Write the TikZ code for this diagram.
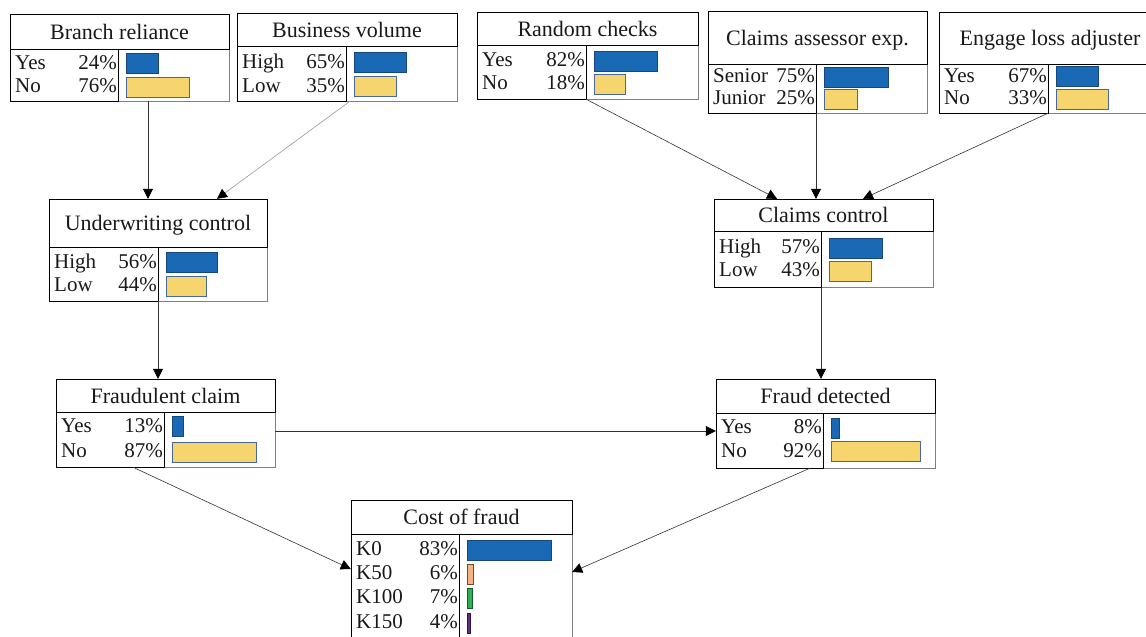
\documentclass[tikz,border=0pt]{standalone}
\usepackage{fontspec}
\setmainfont{Liberation Serif}
\usetikzlibrary{arrows.meta,fit}
\definecolor{barblue}{RGB}{25,105,180}
\definecolor{barblueedge}{RGB}{22,70,130}
\definecolor{baryellow}{RGB}{247,213,110}
\definecolor{baryellowedge}{RGB}{70,105,155}
\definecolor{barorange}{RGB}{245,178,130}
\definecolor{barorangeedge}{RGB}{120,70,40}
\definecolor{bargreen}{RGB}{50,175,80}
\definecolor{bargreenedge}{RGB}{20,90,40}
\definecolor{barpurple}{RGB}{95,45,130}
\definecolor{barpurpleedge}{RGB}{50,20,70}
\newcommand{\bnbox}[8]{%
  \node[fit={(#2,#3)(#4,#5)},inner sep=0pt] (#1) {};
  \draw[colframe] (#7,#6) rectangle (#4,#5);
  \draw[frame] (#2,#6) rectangle (#7,#5);
  \draw[frame] (#2,#3) rectangle (#4,#6);
  \node[titletxt,anchor=base] (#1-t) at ({(#2+#4)/2},{(#3+#6)/2+7.5}) {#8};
}
\newcommand{\brow}[8]{%
  \node[rowtxt,anchor=base west] (#1-l) at ({#2+5},{#4+5.5}) {#5};
  \node[rowtxt,anchor=base east] (#1-p) at ({#3-1},{#4+5.5}) {#6};
  \draw[#8] ({#3+8},{#4-10}) rectangle (#7,{#4+10});
}
\begin{document}
\begin{tikzpicture}[x=1pt,y=-1pt,
  frame/.style={draw=black,line width=1pt},
  colframe/.style={draw=black!50,line width=1pt},
  titletxt/.style={inner sep=0pt,font=\fontsize{22}{26}\selectfont,text=black!90},
  rowtxt/.style={inner sep=0pt,font=\fontsize{21}{25}\selectfont,text=black!90},
  bluebar/.style={fill=barblue,draw=barblueedge,line width=0.8pt},
  yellowbar/.style={fill=baryellow,draw=baryellowedge,line width=0.8pt},
  orangebar/.style={fill=barorange,draw=barorangeedge,line width=0.8pt},
  greenbar/.style={fill=bargreen,draw=bargreenedge,line width=0.8pt},
  purplebar/.style={fill=barpurple,draw=barpurpleedge,line width=0.8pt},
  arr/.style={draw=black!80,line width=0.6pt,-{Triangle[length=10pt,width=10pt,color=black]}},
  lightarr/.style={draw=black!40,line width=0.6pt,-{Triangle[length=10pt,width=10pt,color=black]}}
]
\clip (0,0) rectangle (1146,637);
\fill[white] (0,0) rectangle (1146,637);

% boxes
\bnbox{br}{10}{14}{229}{101}{49}{118}{Branch reliance}
\brow{br1}{10}{118}{63.5}{Yes}{24\%}{158}{bluebar}
\brow{br2}{10}{118}{87}{No}{76\%}{189}{yellowbar}

\bnbox{bv}{237}{13}{457}{101}{46}{346}{Business volume}
\brow{bv1}{237}{346}{62.5}{High}{65\%}{406}{bluebar}
\brow{bv2}{237}{346}{86.5}{Low}{35\%}{396}{yellowbar}

\bnbox{rc}{477}{12}{698}{99}{45}{586}{Random checks}
\brow{rc1}{477}{586}{61}{Yes}{82\%}{657}{bluebar}
\brow{rc2}{477}{586}{84}{No}{18\%}{625}{yellowbar}

\bnbox{ca}{708}{11}{927}{113}{64}{816}{Claims assessor exp.}
\brow{ca1}{708}{816}{77}{Senior}{75\%}{888}{bluebar}
\brow{ca2}{708}{816}{99}{Junior}{25\%}{857}{yellowbar}

\bnbox{el}{939}{12}{1161}{113}{64}{1048}{Engage loss adjuster}
\brow{el1}{939}{1048}{76.5}{Yes}{67\%}{1098}{bluebar}
\brow{el2}{939}{1048}{99}{No}{33\%}{1108}{yellowbar}

\bnbox{uc}{49}{199}{267}{301}{247}{158}{Underwriting control}
\brow{uc1}{49}{158}{262.5}{High}{56\%}{217}{bluebar}
\brow{uc2}{49}{158}{286}{Low}{44\%}{206}{yellowbar}

\bnbox{cc}{714}{199}{933}{287}{231}{821}{Claims control}
\brow{cc1}{714}{821}{248}{High}{57\%}{882}{bluebar}
\brow{cc2}{714}{821}{271}{Low}{43\%}{871}{yellowbar}

\bnbox{fc}{56}{379}{275}{467}{412}{164}{Fraudulent claim}
\brow{fc1}{56}{164}{426.5}{Yes}{13\%}{183}{bluebar}
\brow{fc2}{56}{164}{452}{No}{87\%}{256}{yellowbar}

\bnbox{fd}{716}{379}{935}{468}{413}{823}{Fraud detected}
\brow{fd1}{716}{823}{428}{Yes}{8\%}{839}{bluebar}
\brow{fd2}{716}{823}{451.5}{No}{92\%}{920}{yellowbar}

\bnbox{cf}{351}{500}{572}{660}{534}{459}{Cost of fraud}
\brow{cf1}{351}{459}{550}{K0}{83\%}{551}{bluebar}
\brow{cf2}{351}{459}{574}{K50}{6\%}{473}{orangebar}
\brow{cf3}{351}{459}{598}{K100}{7\%}{472}{greenbar}
\brow{cf4}{351}{459}{623}{K150}{4\%}{470}{purplebar}

% connectors
\draw[arr] (148,0 |- br.south) -- (148,0 |- uc.north);
\draw[lightarr] (350,0 |- bv.south) -- (217,0 |- uc.north);
\draw[arr] (158,0 |- uc.south) -- (158,0 |- fc.north);
\draw[arr] (586,0 |- rc.south) -- (777,0 |- cc.north);
\draw[arr] (816,0 |- ca.south) -- (816,0 |- cc.north);
\draw[arr] (1048,0 |- el.south) -- (863,0 |- cc.north);
\draw[arr] (821,0 |- cc.south) -- (821,0 |- fd.north);
\draw[arr] (fc.east |- 0,431) -- (fd.west |- 0,431);
\draw[arr] (133,0 |- fc.south) -- (cf.west |- 0,569);
\draw[arr] (810,0 |- fd.south) -- (cf.east |- 0,572);
\end{tikzpicture}
\end{document}
